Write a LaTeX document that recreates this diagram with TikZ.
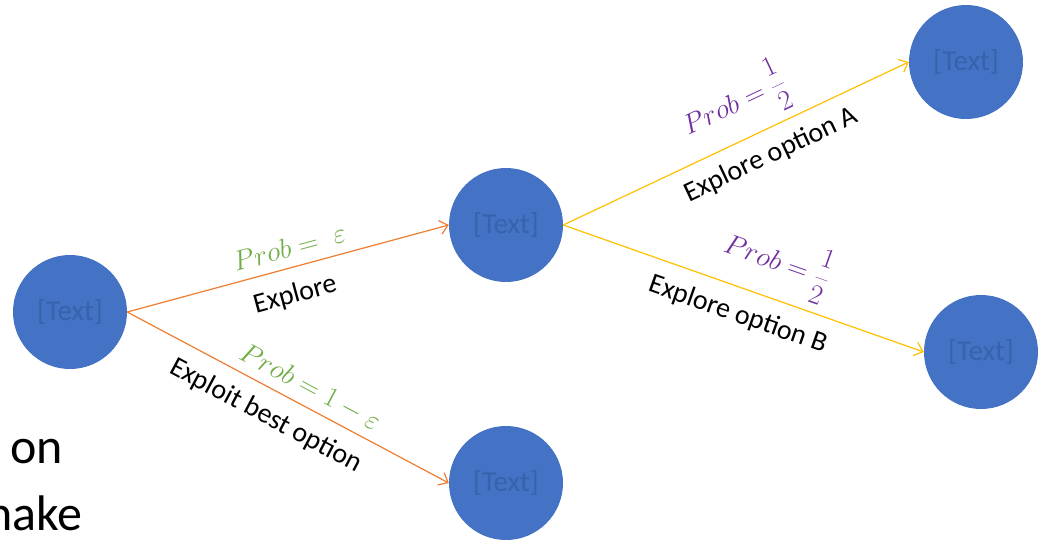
\RequirePackage{fix-cm}
\documentclass[tikz,border=0pt]{standalone}
\usepackage{fontspec}
\setmainfont{Carlito}
\usetikzlibrary{arrows.meta}

\definecolor{ccblue}{RGB}{68,114,196}
\definecolor{cclabel}{RGB}{55,98,172}
\definecolor{ccorange}{RGB}{237,125,49}
\definecolor{ccyellow}{RGB}{255,192,0}
\definecolor{ccgreen}{RGB}{112,173,71}
\definecolor{ccpurple}{RGB}{112,48,160}

\begin{document}
\begin{tikzpicture}[x=1pt, y=-1pt,
  state/.style={circle, fill=ccblue, minimum size=114pt, inner sep=0pt, text=cclabel, font=\fontsize{29}{32}\selectfont},
  choice/.style={line width=1.2pt, -{Straight Barb[length=8pt, width=14pt]}},
  prob/.style={sloped, inner sep=0pt, font=\fontsize{28}{32}\selectfont},
  action/.style={sloped, inner sep=0pt, text=black, font=\fontsize{28}{32}\selectfont}]

  \useasboundingbox (0,0) rectangle (1039,539);

  % States
  \node[state] (start) at (70,312) {[Text]};
  \node[state] (explore) at (506,225) {[Text]};
  \node[state] (exploit) at (506,483) {[Text]};
  \node[state] (optA) at (966,62) {[Text]};
  \node[state] (optB) at (981,352) {[Text]};

  % First choice
  \draw[choice, ccorange] (start.east) -- (explore.west)
    node[prob, pos=0.52, above=10pt, text=ccgreen] (pexplore) {$Prob =\;\varepsilon$}
    node[action, pos=0.5, below=15pt] (lexplore) {Explore};
  \draw[choice, ccorange] (start.east) -- (exploit.west)
    node[prob, pos=0.54, above=8pt, text=ccgreen] (pexploit) {$Prob = 1 - \varepsilon$}
    node[action, pos=0.47, below=14pt] (lexploit) {Exploit best option};

  % Second choice
  \draw[choice, ccyellow] (explore.east) -- (optA.west)
    node[prob, pos=0.54, above=8pt, text=ccpurple] (poptA) {$Prob = {\displaystyle\frac{1}{2}}$}
    node[action, pos=0.57, below=13pt] (loptA) {Explore option A};
  \draw[choice, ccyellow] (explore.east) -- (optB.west)
    node[prob, pos=0.56, above=8pt, text=ccpurple] (poptB) {$Prob = {\displaystyle\frac{1}{2}}$}
    node[action, pos=0.51, below=14pt] (loptB) {Explore option B};

  % Slide text
  \node[anchor=base west, inner sep=0pt, font=\fontsize{50}{56}\selectfont] (on) at (10,463) {on};
  \node[anchor=base west, inner sep=0pt, font=\fontsize{50}{56}\selectfont] (nake) at (-14,530) {nake};

\end{tikzpicture}
\end{document}
